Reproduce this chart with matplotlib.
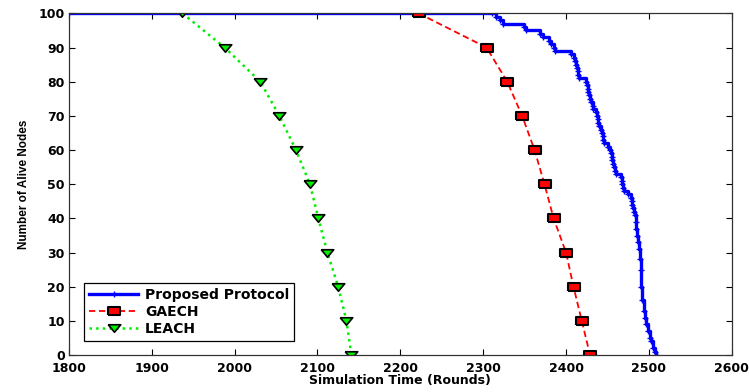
#!/usr/bin/env python3

import matplotlib
matplotlib.use("Agg")
import matplotlib.pyplot as plt

# Alive nodes over simulation rounds for the three protocols

# Proposed protocol: (round, alive) change points, drawn as a staircase
proposed_rounds = [
    1800, 2311, 2316, 2320, 2324, 2349, 2352, 2369, 2372, 2380, 2382, 2385,
    2387, 2406, 2409, 2411, 2412, 2413, 2414, 2415, 2416, 2424, 2425, 2426,
    2427, 2428, 2429, 2430, 2432, 2433, 2436, 2437, 2438, 2439, 2440, 2442,
    2443, 2444, 2445, 2446, 2451, 2453, 2454, 2455, 2456, 2457, 2458, 2459,
    2460, 2466, 2467, 2468, 2469, 2470, 2475, 2478, 2479, 2480, 2481, 2482,
    2483, 2484, 2485, 2486, 2487, 2488, 2489, 2490, 2491, 2492, 2494, 2495,
    2497, 2499, 2501, 2503, 2505, 2507, 2509,
]
proposed_alive = [
    100, 100, 99, 98, 97, 96, 95, 94, 93, 92, 91, 90,
    89, 88, 87, 86, 85, 84, 83, 82, 81, 80, 79, 78,
    77, 76, 75, 74, 73, 72, 71, 70, 69, 68, 67, 66,
    65, 64, 63, 62, 61, 60, 59, 58, 57, 56, 55, 54,
    53, 52, 51, 50, 49, 48, 47, 46, 45, 44, 43, 42,
    41, 39, 37, 35, 33, 31, 28, 25, 20, 16, 13, 11,
    9, 7, 5, 4, 2, 1, 0,
]

alive_levels = [100, 90, 80, 70, 60, 50, 40, 30, 20, 10, 0]
gaech_rounds = [2222, 2304, 2329, 2347, 2362, 2374, 2385, 2400, 2409, 2419, 2429]
leach_rounds = [1937, 1988, 2031, 2054, 2074, 2091, 2101, 2112, 2125, 2135, 2141]

x_ticks = [1800, 1900, 2000, 2100, 2200, 2300, 2400, 2500, 2600]
y_ticks = [0, 10, 20, 30, 40, 50, 60, 70, 80, 90, 100]

tick_font = {"family": "DejaVu Sans", "weight": "bold", "size": 9}

# flattened square and down-triangle markers
flat_square = [(-1, -0.62), (1, -0.62), (1, 0.62), (-1, 0.62), (-1, -0.62)]
flat_tri = [(-1, 0.6), (1, 0.6), (0, -0.6), (-1, 0.6)]

fig = plt.figure(figsize=(7.49, 3.92), dpi=100)
ax = fig.add_axes([0.092, 0.094, 0.885, 0.872])

ax.plot(
    proposed_rounds, proposed_alive,
    drawstyle="steps-post",
    color="#0000ff", linewidth=2.4,
    marker="+", markersize=4, markeredgewidth=1,
    label="Proposed Protocol",
)

ax.plot(
    gaech_rounds, alive_levels,
    color="#ff0000", linestyle="--", linewidth=1.3, dashes=(3.5, 2),
    marker=flat_square, markersize=8.5, markerfacecolor="#ff0000",
    markeredgecolor="black", markeredgewidth=1.5,
    label="GAECH",
)

ax.plot(
    leach_rounds, alive_levels,
    color="#00ee00", linestyle=":", linewidth=1.8,
    marker=flat_tri, markersize=9, markerfacecolor="#00ee00",
    markeredgecolor="black", markeredgewidth=1.2,
    label="LEACH",
)

ax.set_xlim(1800, 2600)
ax.set_ylim(0, 100)
ax.set_xticks(x_ticks)
ax.set_yticks(y_ticks)
ax.set_xticklabels([str(t) for t in x_ticks], fontdict=tick_font)
ax.set_yticklabels([str(t) for t in y_ticks], fontdict=tick_font)

ax.tick_params(direction="in", length=4, width=0.8, top=True, right=True, pad=3)
ax.tick_params(axis="x", pad=5)

for side in ax.spines.values():
    side.set_linewidth(0.9)
    side.set_color("#333333")

ax.set_xlabel(
    "Simulation Time (Rounds)",
    family="DejaVu Sans", weight="bold", size=9, labelpad=-1,
)
ax.set_ylabel(
    "Number of Alive Nodes",
    family="Liberation Sans", weight="bold", size=8.5, labelpad=6,
)

leg = ax.legend(
    loc="lower left", bbox_to_anchor=(0.017, 0.03),
    prop={"family": "DejaVu Sans", "weight": "bold", "size": 10},
    numpoints=1, handlelength=3.5, handletextpad=0.5,
    borderpad=0.35, labelspacing=0.2, borderaxespad=0.3,
    fancybox=False, framealpha=1, edgecolor="black",
)
leg.get_frame().set_linewidth(0.9)

fig.savefig("out.png", dpi=100)
